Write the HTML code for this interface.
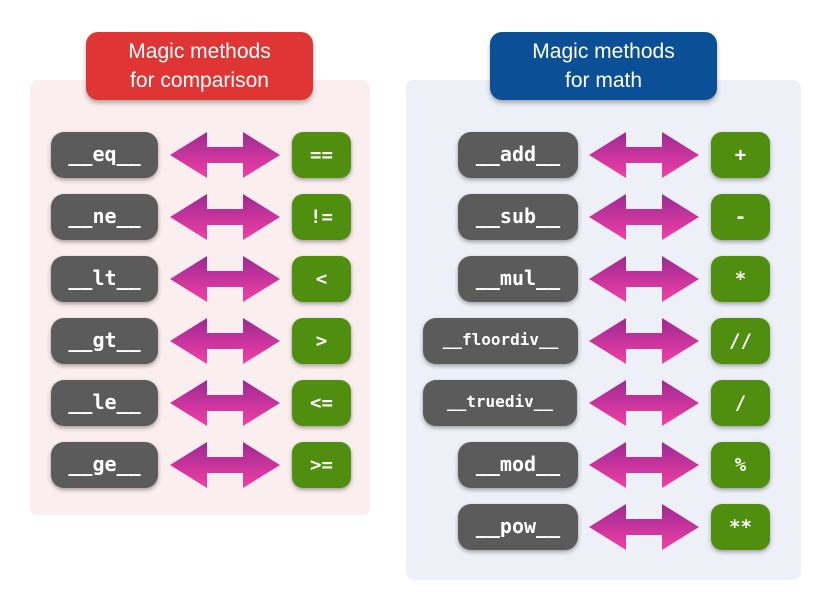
<!DOCTYPE html>
<html><head><meta charset="utf-8"><style>
body{margin:0;width:831px;height:610px;background:#fff;position:relative;overflow:hidden;font-family:"Liberation Sans",sans-serif}
.p{position:absolute;border-radius:8px}
.t{position:absolute;border-radius:12px;color:#fff;text-align:center;font-size:21px;line-height:29px;box-shadow:0 3px 5px rgba(0,0,0,.3);padding-top:5px;box-sizing:border-box}
.g{position:absolute;height:46px;background:#5b5b5b;border-radius:13px;color:#fff;font-family:"DejaVu Sans Mono",monospace;font-weight:bold;font-size:20px;line-height:44px;text-align:center;box-shadow:0 2px 4px rgba(0,0,0,.35)}
.gr{position:absolute;width:59px;height:46px;background:#4f8e0e;border-radius:11px;color:#fff;font-family:"DejaVu Sans Mono",monospace;font-weight:bold;font-size:19px;line-height:46px;text-align:center;box-shadow:0 2px 4px rgba(0,0,0,.35)}
svg.a{position:absolute;width:110px;height:48px}
</style></head><body>
<svg width="0" height="0" style="position:absolute"><defs><linearGradient id="m" x1="0" y1="0" x2="0" y2="1"><stop offset="0" stop-color="#9c2a92"/><stop offset="1" stop-color="#f23fa6"/></linearGradient></defs></svg>
<div class="p" style="left:30px;top:80px;width:340px;height:435px;background:#fbeeee"></div>
<div class="p" style="left:406px;top:80px;width:395px;height:500px;background:#edf1f7"></div>
<div class="t" style="left:86px;top:32px;width:227px;height:68px;background:#e03535">Magic methods<br>for comparison</div>
<div class="t" style="left:490px;top:32px;width:227px;height:68px;background:#0b4f96">Magic methods<br>for math</div>

<div class="g" style="left:51px;top:132px;width:107px">__eq__</div>
<div class="g" style="left:51px;top:194px;width:107px">__ne__</div>
<div class="g" style="left:51px;top:256px;width:107px">__lt__</div>
<div class="g" style="left:51px;top:318px;width:107px">__gt__</div>
<div class="g" style="left:51px;top:380px;width:107px">__le__</div>
<div class="g" style="left:51px;top:442px;width:107px">__ge__</div>

<div class="gr" style="left:292px;top:132px">==</div>
<div class="gr" style="left:292px;top:194px">!=</div>
<div class="gr" style="left:292px;top:256px">&lt;</div>
<div class="gr" style="left:292px;top:318px">&gt;</div>
<div class="gr" style="left:292px;top:380px">&lt;=</div>
<div class="gr" style="left:292px;top:442px">&gt;=</div>

<div class="g" style="left:458px;top:132px;width:120px">__add__</div>
<div class="g" style="left:458px;top:194px;width:120px">__sub__</div>
<div class="g" style="left:458px;top:256px;width:120px">__mul__</div>
<div class="g" style="left:423px;top:318px;width:155px;font-size:16px">__floordiv__</div>
<div class="g" style="left:423px;top:380px;width:154px;font-size:16px">__truediv__</div>
<div class="g" style="left:458px;top:442px;width:120px">__mod__</div>
<div class="g" style="left:458px;top:504px;width:120px">__pow__</div>

<div class="gr" style="left:711px;top:132px">+</div>
<div class="gr" style="left:711px;top:194px">-</div>
<div class="gr" style="left:711px;top:256px">*</div>
<div class="gr" style="left:711px;top:318px">//</div>
<div class="gr" style="left:711px;top:380px">/</div>
<div class="gr" style="left:711px;top:442px">%</div>
<div class="gr" style="left:711px;top:504px">**</div>

<div id="arrows"></div>
<script>
var ys=[132,194,256,318,380,442],ys2=[132,194,256,318,380,442,504],h='';
function a(x,y){return '<svg class="a" style="left:'+x+'px;top:'+y+'px" viewBox="0 0 110 48"><polygon points="0,24 37,1 37,16 73,16 73,1 110,24 73,47 73,32 37,32 37,47" fill="url(#m)"/></svg>';}
ys.forEach(function(y){h+=a(170,y-1)});
ys2.forEach(function(y){h+=a(589,y-1)});
document.getElementById('arrows').innerHTML=h;
</script>
</body></html>
